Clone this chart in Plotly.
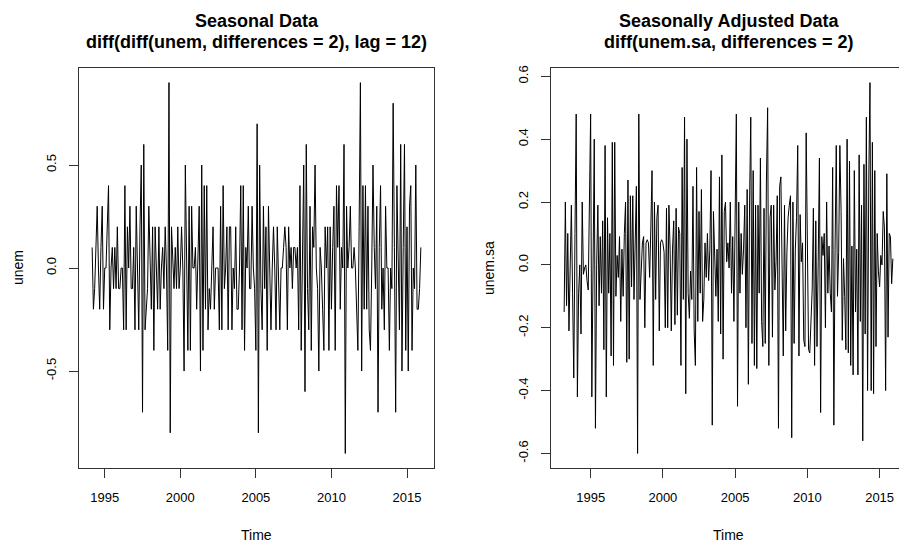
import numpy as np
import plotly.graph_objects as go

# ---------------- data ----------------
# Left: diff(diff(unem, differences = 2), lag = 12), monthly from Mar 1994
seasonal_start = 1994 + 2 / 12
seasonal_vals = [
    0.1, -0.2, -0.1, 0.1, 0.3, 0.0, -0.2, 0.1, 0.3, -0.2,
    0.0, 0.0, 0.2, 0.4, -0.3, 0.0, 0.1, -0.1, 0.1, -0.1,
    0.2, -0.1, -0.1, 0.0, 0.0, -0.3, 0.4, -0.3, 0.2, 0.0,
    0.3, -0.1, -0.1, 0.1, -0.3, 0.3, 0.0, -0.3, 0.2, 0.5,
    -0.7, 0.6, -0.3, -0.2, -0.1, 0.3, 0.0, -0.2, 0.2, -0.4,
    0.2, 0.0, -0.2, 0.2, -0.2, 0.0, 0.1, -0.1, 0.2, 0.0,
    -0.4, 0.9, -0.8, 0.2, 0.0, -0.1, 0.1, -0.1, 0.2, -0.1,
    0.0, 0.2, 0.0, -0.5, 0.5, 0.0, -0.4, 0.3, -0.4, 0.3,
    0.0, 0.0, 0.1, -0.2, 0.0, 0.3, -0.5, 0.5, -0.4, 0.4,
    -0.2, 0.4, -0.3, -0.1, -0.2, 0.0, 0.2, -0.2, 0.0, 0.0,
    0.0, -0.3, 0.3, -0.3, 0.4, -0.1, 0.0, 0.2, -0.3, 0.2,
    0.2, -0.3, 0.0, -0.1, 0.2, -0.2, -0.2, 0.0, 0.4, -0.3,
    0.4, -0.4, 0.1, 0.0, 0.3, -0.1, -0.1, 0.3, 0.0, -0.1,
    -0.4, 0.7, -0.8, 0.5, -0.1, -0.3, 0.3, -0.1, 0.2, -0.4,
    0.3, 0.0, -0.3, 0.0, 0.2, 0.0, -0.3, 0.2, 0.0, -0.3,
    0.0, 0.0, 0.1, 0.2, 0.1, -0.3, 0.2, 0.0, 0.1, -0.1,
    0.1, 0.1, 0.0, 0.1, -0.3, 0.4, -0.4, 0.0, 0.5, -0.6,
    0.6, -0.1, -0.3, 0.3, -0.4, 0.2, 0.1, 0.5, 0.0, -0.1,
    -0.5, 0.1, 0.0, -0.2, -0.4, 0.2, 0.0, 0.2, -0.4, 0.2,
    -0.2, 0.1, 0.3, -0.4, 0.4, 0.1, 0.4, -0.2, 0.1, 0.0,
    0.6, -0.9, 0.3, 0.0, 0.1, 0.3, 0.0, 0.0, 0.1, 0.0,
    -0.2, -0.4, 0.2, 0.9, -0.5, 0.4, -0.2, 0.4, -0.2, 0.3,
    -0.3, -0.4, 0.0, 0.5, 0.1, -0.1, 0.3, -0.7, 0.1, 0.4,
    -0.2, 0.0, -0.3, 0.3, 0.0, 0.0, -0.4, 0.0, -0.1, 0.8,
    0.1, -0.7, 0.4, 0.0, -0.3, 0.6, -0.5, 0.1, 0.6, -0.4,
    0.2, -0.5, 0.3, 0.4, -0.4, 0.0, -0.1, 0.5, -0.2, -0.2,
    -0.1, 0.1,
]

# Right: diff(unem.sa, differences = 2), monthly from Mar 1993
adjusted_start = 1993 + 2 / 12
adjusted_vals = [
    -0.15, 0.20, -0.13, 0.10, -0.21, -0.02, 0.19, -0.09, -0.36, 0.10,
    0.48, -0.42, -0.09, 0.00, -0.22, 0.20, -0.03, -0.01, 0.00, -0.05,
    -0.08, 0.20, 0.48, -0.42, 0.10, 0.40, -0.52, 0.00, 0.19, -0.13,
    0.09, -0.09, 0.14, -0.27, 0.38, -0.42, 0.15, -0.09, 0.10, -0.29,
    0.39, -0.32, 0.39, -0.10, 0.03, -0.04, 0.09, -0.18, 0.05, -0.10,
    0.10, 0.20, -0.31, 0.27, -0.30, 0.22, -0.07, 0.22, -0.11, 0.05,
    0.25, -0.60, 0.48, -0.11, 0.00, 0.07, 0.09, -0.20, 0.07, 0.08,
    0.07, -0.04, 0.12, 0.30, -0.32, 0.20, -0.11, 0.15, 0.19, -0.21,
    0.07, 0.08, 0.07, 0.04, -0.20, 0.18, -0.20, 0.19, 0.05, -0.21,
    0.05, 0.14, -0.19, 0.18, -0.16, 0.12, 0.10, -0.32, 0.31, -0.11,
    0.47, -0.41, 0.40, -0.09, -0.17, -0.02, -0.11, 0.25, -0.21, -0.32,
    0.31, -0.18, 0.17, -0.09, 0.24, -0.18, -0.11, 0.07, -0.04, 0.10,
    -0.05, 0.05, 0.30, -0.51, 0.17, 0.01, -0.10, 0.05, -0.18, 0.28,
    -0.22, 0.35, -0.30, 0.17, 0.20, 0.01,
    0.07, -0.01, 0.20, -0.09, 0.09, -0.18, 0.18, 0.48, -0.45, 0.20,
    -0.09, 0.10, -0.03, 0.05, 0.19, -0.20, 0.24, -0.38, 0.20, 0.47,
    -0.25, 0.30, -0.32, 0.19, -0.33, 0.19, -0.09, 0.34, -0.18, -0.26,
    0.18, -0.25, 0.27, 0.50, -0.32, 0.15, 0.19, -0.23, 0.19, -0.08,
    0.01, 0.22, -0.52, 0.25, 0.28, -0.09, -0.29, 0.19, -0.21, 0.04,
    0.15, 0.19, 0.22, -0.55, 0.20, -0.25, 0.05, 0.15, 0.38, -0.29,
    0.16, 0.01, 0.07, -0.24, -0.26, 0.42, -0.05, -0.27, -0.28, -0.16,
    -0.08, 0.18, -0.32, 0.14, -0.26, 0.01, 0.34, -0.47, 0.09, 0.03,
    0.10, -0.20, 0.20, -0.09, 0.06, -0.09, -0.15, 0.31, -0.51, 0.05,
    0.38, -0.10, 0.04, 0.38, 0.17, -0.24, 0.02, -0.10, -0.27, 0.40,
    -0.28, 0.33, -0.32, 0.06, -0.35, 0.30, -0.15, 0.05, -0.35, 0.35,
    -0.18, 0.19, -0.56, 0.32, -0.22, 0.47, -0.40, 0.27, 0.58, -0.40,
    0.39, -0.41, 0.30, -0.26, 0.10, -0.02, -0.07, 0.03, 0.00, 0.17,
    0.12, -0.40, 0.29, -0.23, 0.10, 0.09, -0.06, 0.02,
]

year_ticks = [1995, 2000, 2005, 2010, 2015]
left_yticks = [-0.5, 0.0, 0.5]
left_yticklabels = ["-0.5", "0.0", "0.5"]
right_yticks = [-0.6, -0.4, -0.2, 0.0, 0.2, 0.4, 0.6]
right_yticklabels = ["-0.6", "-0.4", "-0.2", "0.0", "0.2", "0.4", "0.6"]

# ---------------- figure ----------------
W, H = 899, 544
FONT = "Liberation Sans"

t_left = seasonal_start + np.arange(len(seasonal_vals)) / 12
t_right = adjusted_start + np.arange(len(adjusted_vals)) / 12


def r_range(lo, hi):
    pad = 0.04 * (hi - lo)
    return [lo - pad, hi + pad]


fig = go.Figure()
fig.add_trace(go.Scatter(x=t_left, y=seasonal_vals, mode="lines",
                         line=dict(color="black", width=1),
                         xaxis="x", yaxis="y", showlegend=False,
                         hoverinfo="skip"))
fig.add_trace(go.Scatter(x=t_right, y=adjusted_vals, mode="lines",
                         line=dict(color="black", width=1),
                         xaxis="x2", yaxis="y2", showlegend=False,
                         hoverinfo="skip"))

y_dom = [1 - 468 / H, 1 - 66 / H]
xl_dom = [79 / W, 434 / W]
xr_dom = [551 / W, 1.0]

common_axis = dict(showgrid=False, zeroline=False, showline=True,
                   linecolor="#333333", linewidth=1, ticks="outside",
                   ticklen=9, tickcolor="#333333", tickwidth=1,
                   tickfont=dict(family=FONT, size=13, color="black"))

xl_range = r_range(t_left[0], t_left[-1])
yl_range = r_range(min(seasonal_vals), max(seasonal_vals))
xr_full = r_range(t_right[0], t_right[-1])
# right panel is cut off at the window edge
xr_range = [xr_full[0], xr_full[0] + (xr_full[1] - xr_full[0]) * (W - 551) / (906 - 551)]
yr_range = r_range(min(adjusted_vals), max(adjusted_vals))

fig.update_layout(
    width=W, height=H,
    margin=dict(l=0, r=0, t=0, b=0),
    paper_bgcolor="white", plot_bgcolor="white",
    xaxis=dict(domain=xl_dom, anchor="y", range=xl_range, mirror=True,
               tickvals=year_ticks, ticklabelstandoff=8, **common_axis),
    yaxis=dict(domain=y_dom, anchor="x", range=yl_range, mirror=True,
               tickvals=left_yticks, ticktext=left_yticklabels,
               tickangle=-90, ticklabelstandoff=8, **common_axis),
    xaxis2=dict(domain=xr_dom, anchor="y2", range=xr_range, mirror=True,
                tickvals=year_ticks, ticklabelstandoff=8, **common_axis),
    yaxis2=dict(domain=y_dom, anchor="x2", range=yr_range, mirror=False,
                tickvals=right_yticks, ticktext=right_yticklabels,
                tickangle=-90, ticklabelstandoff=8, **common_axis),
)

tfont = dict(family=FONT, size=18, color="black")
lfont = dict(family=FONT, size=14, color="black")
ann = []
for cx, l1, l2 in [((79 + 434) / 2, "<b>Seasonal Data</b>",
                    "<b>diff(diff(unem, differences = 2), lag = 12)</b>"),
                   ((551 + 906) / 2, "<b>Seasonally Adjusted Data</b>",
                    "<b>diff(unem.sa, differences = 2)</b>")]:
    ann.append(dict(x=cx / W, y=1 - 19 / H, xref="paper", yref="paper",
                    text=l1, showarrow=False, font=tfont,
                    xanchor="center", yanchor="middle"))
    ann.append(dict(x=cx / W, y=1 - 40 / H, xref="paper", yref="paper",
                    text=l2, showarrow=False, font=tfont,
                    xanchor="center", yanchor="middle"))
for cx in [(79 + 434) / 2, (551 + 906) / 2]:
    ann.append(dict(x=cx / W, y=1 - 535 / H, xref="paper", yref="paper",
                    text="Time", showarrow=False, font=lfont,
                    xanchor="center", yanchor="middle"))
ann.append(dict(x=18 / W, y=1 - 267 / H, xref="paper", yref="paper",
                text="unem", showarrow=False, font=lfont, textangle=-90,
                xanchor="center", yanchor="middle"))
ann.append(dict(x=489 / W, y=1 - 267 / H, xref="paper", yref="paper",
                text="unem.sa", showarrow=False, font=lfont, textangle=-90,
                xanchor="center", yanchor="middle"))
fig.update_layout(annotations=ann)

fig.write_html("out.html")
